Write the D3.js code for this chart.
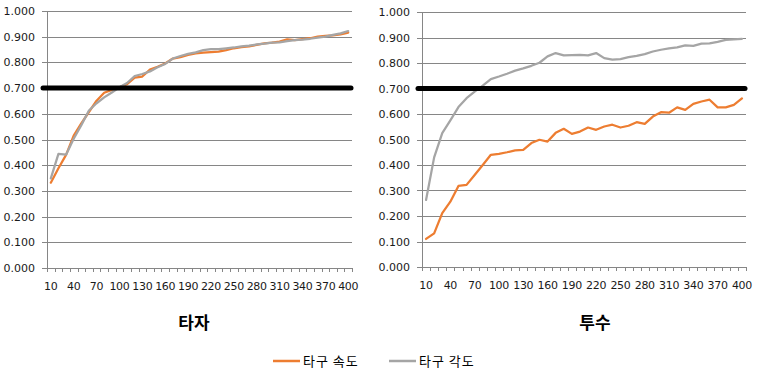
<!DOCTYPE html>
<html>
<head>
<meta charset="utf-8">
<script src="https://cdn.jsdelivr.net/npm/d3@7"></script>
<style>
    body { margin: 0; background: #ffffff; }
    svg { display: block; }
</style>
</head>
<body>
<svg id="canvas" width="759" height="383"></svg>
<script>
// Data
let categories = [10, 20, 30, 40, 50, 60, 70, 80, 90, 100,
                  110, 120, 130, 140, 150, 160, 170, 180, 190, 200,
                  210, 220, 230, 240, 250, 260, 270, 280, 290, 300,
                  310, 320, 330, 340, 350, 360, 370, 380, 390, 400]
let xTickLabels = [10, 40, 70, 100, 130, 160, 190, 220, 250, 280, 310, 340, 370, 400]
let yTicks = [0, 0.1, 0.2, 0.3, 0.4, 0.5, 0.6, 0.7, 0.8, 0.9, 1.0]
let referenceLevel = 0.7

// 타자 (batter)
let batterSpeed = [0.332, 0.388, 0.440, 0.515, 0.563, 0.607, 0.651, 0.682, 0.693, 0.703,
                   0.715, 0.741, 0.745, 0.772, 0.783, 0.796, 0.815, 0.820, 0.829, 0.835,
                   0.838, 0.840, 0.842, 0.848, 0.855, 0.859, 0.862, 0.868, 0.874, 0.877,
                   0.881, 0.890, 0.887, 0.891, 0.894, 0.900, 0.903, 0.905, 0.909, 0.916]
let batterAngle = [0.349, 0.444, 0.441, 0.503, 0.556, 0.613, 0.641, 0.664, 0.683, 0.703,
                   0.720, 0.747, 0.755, 0.765, 0.781, 0.794, 0.815, 0.825, 0.833, 0.839,
                   0.848, 0.852, 0.852, 0.855, 0.858, 0.862, 0.865, 0.870, 0.873, 0.877,
                   0.878, 0.883, 0.887, 0.889, 0.892, 0.896, 0.900, 0.907, 0.913, 0.922]

// 투수 (pitcher)
let pitcherSpeed = [0.110, 0.132, 0.211, 0.256, 0.318, 0.322, 0.361, 0.400, 0.440, 0.444,
                    0.450, 0.457, 0.459, 0.486, 0.499, 0.492, 0.526, 0.542, 0.522, 0.531,
                    0.547, 0.538, 0.551, 0.558, 0.547, 0.554, 0.568, 0.561, 0.590, 0.607,
                    0.605, 0.626, 0.616, 0.640, 0.649, 0.656, 0.626, 0.626, 0.636, 0.661]
let pitcherAngle = [0.263, 0.430, 0.525, 0.575, 0.627, 0.662, 0.688, 0.711, 0.737, 0.747,
                    0.758, 0.770, 0.779, 0.789, 0.801, 0.826, 0.839, 0.830, 0.831, 0.832,
                    0.830, 0.839, 0.819, 0.813, 0.815, 0.823, 0.828, 0.835, 0.845, 0.852,
                    0.857, 0.861, 0.869, 0.867, 0.876, 0.877, 0.883, 0.891, 0.893, 0.895]

let seriesNames = ['타구 속도', '타구 각도']
let seriesColors = ['#ED7D31', '#A5A5A5']

let canvas = d3.select('#canvas')

let gridColor = '#868686'
let labelFont = '"DejaVu Sans", Verdana, sans-serif'
let koreanFont = '"Noto Sans CJK KR", "Noto Sans", sans-serif'

let drawPanel = (box, series, title, titleX) => {
    let x = d3.scaleBand()
        .domain(categories)
        .range([box.left, box.right])
    let y = d3.scaleLinear()
        .domain([0, 1])
        .range([box.bottom, box.top])

    let g = canvas.append('g')

    // horizontal gridlines + y tick marks
    g.selectAll('.grid')
        .data(yTicks.slice(1))
        .enter()
        .append('line')
        .attr('x1', box.left)
        .attr('x2', box.right)
        .attr('y1', d => Math.round(y(d)) + 0.5)
        .attr('y2', d => Math.round(y(d)) + 0.5)
        .style('stroke', gridColor)
        .style('stroke-width', 1)

    g.selectAll('.ytick')
        .data(yTicks)
        .enter()
        .append('line')
        .attr('x1', box.left - 5)
        .attr('x2', box.left)
        .attr('y1', d => Math.round(y(d)) + 0.5)
        .attr('y2', d => Math.round(y(d)) + 0.5)
        .style('stroke', gridColor)

    g.selectAll('.ylabel')
        .data(yTicks)
        .enter()
        .append('text')
        .attr('x', box.left - 12)
        .attr('y', d => y(d) + 4)
        .attr('text-anchor', 'end')
        .style('font-family', labelFont)
        .style('font-size', '11px')
        .style('fill', '#1a1a1a')
        .text(d => d3.format('.3f')(d))

    // axes lines
    g.append('line')
        .attr('x1', Math.round(box.left) + 0.5)
        .attr('x2', Math.round(box.left) + 0.5)
        .attr('y1', box.top)
        .attr('y2', box.bottom)
        .style('stroke', gridColor)
    g.append('line')
        .attr('x1', box.left)
        .attr('x2', box.right)
        .attr('y1', Math.round(box.bottom) + 0.5)
        .attr('y2', Math.round(box.bottom) + 0.5)
        .style('stroke', gridColor)

    // x tick marks sit on the category boundaries
    let edges = categories.map(c => x(c)).concat([box.right])
    g.selectAll('.xtick')
        .data(edges)
        .enter()
        .append('line')
        .attr('x1', d => Math.round(d) + 0.5)
        .attr('x2', d => Math.round(d) + 0.5)
        .attr('y1', box.bottom)
        .attr('y2', box.bottom + 4)
        .style('stroke', gridColor)

    g.selectAll('.xlabel')
        .data(xTickLabels)
        .enter()
        .append('text')
        .attr('x', d => x(d) + x.bandwidth() / 2)
        .attr('y', box.bottom + 22)
        .attr('text-anchor', 'middle')
        .style('font-family', labelFont)
        .style('font-size', '11px')
        .style('letter-spacing', '-0.3px')
        .style('fill', '#1a1a1a')
        .text(d => d)

    // the two series
    let line = d3.line()
        .x((d, i) => x(categories[i]) + x.bandwidth() / 2)
        .y(d => y(d))

    series.forEach((values, k) => {
        g.append('path')
            .datum(values)
            .attr('d', line)
            .style('fill', 'none')
            .style('stroke', seriesColors[k])
            .style('stroke-width', 2.25)
            .style('stroke-linejoin', 'round')
            .style('stroke-linecap', 'round')
    })

    // thick black 0.700 line
    g.append('line')
        .attr('x1', box.left - 4)
        .attr('x2', box.right - 1)
        .attr('y1', y(referenceLevel))
        .attr('y2', y(referenceLevel))
        .style('stroke', '#000000')
        .style('stroke-width', 5)
        .style('stroke-linecap', 'round')

    canvas.append('text')
        .attr('x', titleX)
        .attr('y', 329)
        .attr('text-anchor', 'middle')
        .style('font-family', koreanFont)
        .style('font-size', '17px')
        .style('font-weight', 'bold')
        .style('fill', '#000000')
        .text(title)
}

drawPanel({left: 47, right: 352, top: 11, bottom: 268}, [batterSpeed, batterAngle], '타자', 194)
drawPanel({left: 422, right: 746, top: 12, bottom: 267}, [pitcherSpeed, pitcherAngle], '투수', 595)

// Legend
let legendItems = [{x: 273, name: seriesNames[0], color: seriesColors[0]},
                   {x: 389, name: seriesNames[1], color: seriesColors[1]}]
let legend = canvas.selectAll('.legend')
    .data(legendItems)
    .enter()
    .append('g')

legend.append('line')
    .attr('x1', d => d.x)
    .attr('x2', d => d.x + 27)
    .attr('y1', 361)
    .attr('y2', 361)
    .style('stroke', d => d.color)
    .style('stroke-width', 2.5)

legend.append('text')
    .attr('x', d => d.x + 30)
    .attr('y', 366)
    .style('font-family', koreanFont)
    .style('font-size', '13px')
    .style('letter-spacing', '1px')
    .style('fill', '#000000')
    .text(d => d.name)
</script>
</body>
</html>
